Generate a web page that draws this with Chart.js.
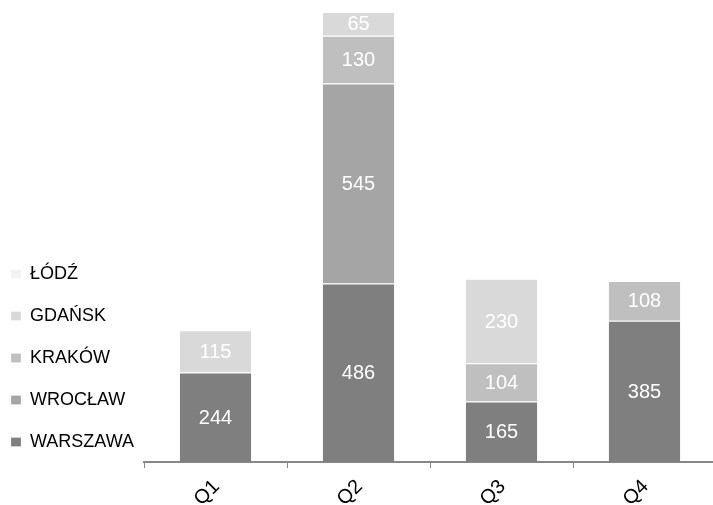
<!DOCTYPE html>
<html>
<head>
<meta charset="utf-8">
<script src="https://cdn.jsdelivr.net/npm/chart.js@4"></script>
<style>
  body { margin: 0; overflow: hidden; background: #fff; }
  #wrap { width: 716px; height: 505px; }
</style>
</head>
<body>
<div id="wrap"><canvas id="chart"></canvas></div>
<script>
// Dane
const quarters = ['Q1', 'Q2', 'Q3', 'Q4'];
const warszawa = [244, 486, 165, 385];
const wroclaw  = [0, 545, 0, 0];
const krakow   = [0, 130, 104, 108];
const gdansk   = [115, 65, 230, 0];
const lodz     = [0, 0, 0, 0];
const yMax = 1226;

const FONT = '"Liberation Sans", Arial, Helvetica, sans-serif';

// Etykiety wartości wewnątrz segmentów
const valueLabels = {
    id: 'valueLabels',
    afterDatasetsDraw(chart) {
        const ctx = chart.ctx;
        ctx.save();
        ctx.fillStyle = '#ffffff';
        ctx.font = '20px ' + FONT;
        ctx.textAlign = 'center';
        ctx.textBaseline = 'middle';
        chart.data.datasets.forEach((ds, i) => {
            const meta = chart.getDatasetMeta(i);
            if (meta.hidden) return;
            meta.data.forEach((bar, j) => {
                const v = ds.data[j];
                if (!v) return;
                ctx.fillText(String(v), bar.x, (bar.y + bar.base) / 2 + 1);
            });
        });
        ctx.restore();
    }
};

// Legenda podniesiona nad oś X (jak w oryginale)
const liftLegend = {
    id: 'liftLegend',
    afterLayout(chart) {
        const lg = chart.legend;
        if (!lg) return;
        lg.top -= 30;
        lg.bottom -= 30;
    }
};

const mk = (label, data, color) => ({
    label,
    data,
    backgroundColor: color,
    borderColor: '#ffffff',
    borderWidth: { top: 1 },
    borderSkipped: false
});

new Chart(document.getElementById('chart'), {
    type: 'bar',
    data: {
        labels: quarters,
        datasets: [
            mk('WARSZAWA', warszawa, '#7f7f7f'),
            mk('WROCŁAW', wroclaw, '#a5a5a5'),
            mk('KRAKÓW', krakow, '#bfbfbf'),
            mk('GDAŃSK', gdansk, '#d9d9d9'),
            mk('ŁÓDŹ', lodz, '#f2f2f2')
        ]
    },
    options: {
        responsive: true,
        maintainAspectRatio: false,
        animation: false,
        layout: { padding: { top: 12, left: -13, bottom: 0, right: 0 } },
        datasets: { bar: { categoryPercentage: 1, barPercentage: 0.5 } },
        plugins: {
            tooltip: { enabled: false },
            legend: {
                position: 'left',
                align: 'end',
                reverse: true,
                labels: {
                    boxWidth: 10,
                    boxHeight: 9,
                    padding: 24,
                    color: '#000000',
                    font: { family: FONT, size: 18 }
                }
            }
        },
        scales: {
            x: {
                stacked: true,
                grid: { display: true, drawOnChartArea: false, drawTicks: true, tickLength: 6, color: '#878787' },
                border: { display: true, color: '#878787', width: 2 },
                ticks: {
                    color: '#000000',
                    font: { family: FONT, size: 20 },
                    minRotation: 45,
                    maxRotation: 45,
                    labelOffset: 1,
                    padding: 7
                },
                afterFit(s) { s.height = 43; }
            },
            y: {
                stacked: true,
                min: 0,
                max: yMax,
                ticks: { display: false },
                grid: { display: false },
                border: { display: false },
                afterFit(s) { s.width = Math.max(0, 144 + 13 - s.chart.legend.width); }
            }
        }
    },
    plugins: [valueLabels, liftLegend]
});
</script>
</body>
</html>
